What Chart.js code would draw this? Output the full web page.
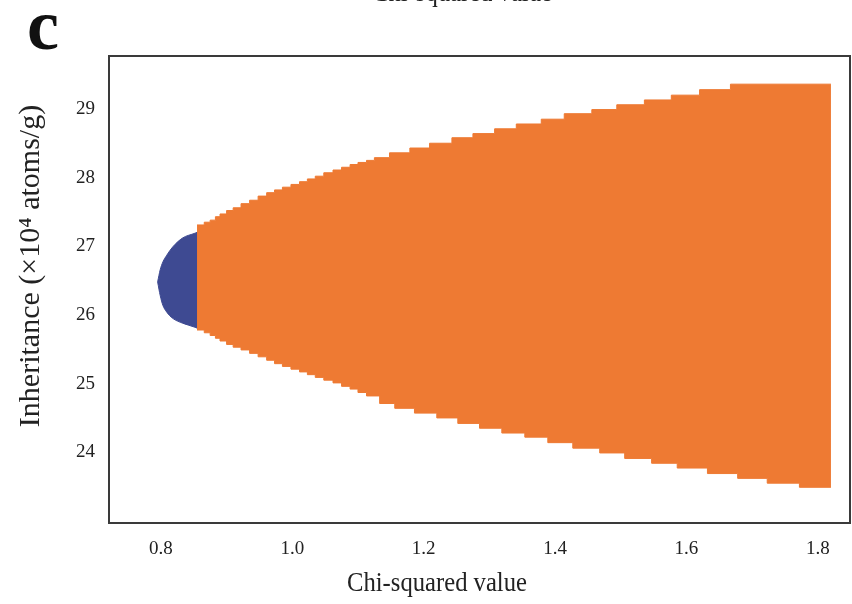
<!DOCTYPE html>
<html>
<head>
<meta charset="utf-8">
<script src="https://cdn.jsdelivr.net/npm/chart.js@4.4.1/dist/chart.umd.min.js"></script>
<style>html, body { margin: 0; padding: 0; background: #fff; }</style>
</head>
<body>
<canvas id="chart" width="852" height="604"></canvas>
<script>
const xTicks = [0.8, 1.0, 1.2, 1.4, 1.6, 1.8];
const yTicks = [24, 25, 26, 27, 28, 29];

// blue cap (lowest chi-squared values): upper and lower edge
const blueX = [0.795, 0.799, 0.803, 0.809, 0.818, 0.833, 0.852, 0.857];
const blueTop = [26.48, 26.66, 26.77, 26.87, 26.99, 27.12, 27.19, 27.21];
const blueBottom = [26.48, 26.28, 26.14, 26.04, 25.95, 25.88, 25.82, 25.80];

// orange region: upper edge (each value holds from its x to the next x)
const topX = [0.855, 0.866, 0.875, 0.883, 0.89, 0.9, 0.91, 0.922, 0.935, 0.948, 0.961, 0.973, 0.985,
  0.998, 1.011, 1.023, 1.035, 1.048, 1.062, 1.075, 1.088, 1.1, 1.113,
  1.125, 1.148, 1.179, 1.209, 1.243, 1.275, 1.308, 1.341, 1.379, 1.414, 1.456, 1.494, 1.536,
  1.577, 1.62, 1.667, 1.82];
const topY = [27.31, 27.35, 27.38, 27.43, 27.47, 27.52, 27.56, 27.62, 27.67, 27.73, 27.78, 27.82, 27.86,
  27.90, 27.94, 27.98, 28.02, 28.07, 28.11, 28.15, 28.19, 28.22, 28.25,
  28.29, 28.36, 28.43, 28.50, 28.58, 28.64, 28.71, 28.78, 28.85, 28.93, 28.99, 29.06, 29.13,
  29.20, 29.28, 29.36, 29.36];

// orange region: lower edge
const bottomX = [0.855, 0.866, 0.875, 0.883, 0.89, 0.9, 0.91, 0.922, 0.935, 0.948, 0.961, 0.973, 0.985,
  0.998, 1.011, 1.023, 1.035, 1.048, 1.062, 1.075, 1.088, 1.1, 1.113,
  1.133, 1.156, 1.186, 1.220, 1.252, 1.285, 1.319, 1.354, 1.389, 1.427, 1.468, 1.506, 1.547,
  1.586, 1.632, 1.678, 1.723, 1.772, 1.82];
const bottomY = [25.78, 25.74, 25.70, 25.66, 25.62, 25.57, 25.53, 25.49, 25.44, 25.39, 25.34, 25.29, 25.25,
  25.21, 25.17, 25.13, 25.09, 25.05, 25.01, 24.96, 24.92, 24.87, 24.82,
  24.71, 24.64, 24.57, 24.50, 24.42, 24.35, 24.28, 24.22, 24.14, 24.06, 23.99, 23.91, 23.84,
  23.77, 23.69, 23.62, 23.55, 23.49, 23.49];

const orange = '#ee7a33';
const blue = '#3e4a92';
const serif = '"Liberation Serif", "DejaVu Serif", serif';

const toPoints = (xs, ys) => xs.map((x, i) => ({ x: x, y: ys[i] }));

const frameAndText = {
  id: 'frameAndText',
  afterDraw(chart) {
    const { ctx, chartArea: a } = chart;
    ctx.save();
    ctx.strokeStyle = '#3a3a3a';
    ctx.lineWidth = 2;
    ctx.strokeRect(a.left, a.top, a.right - a.left, a.bottom - a.top);

    ctx.fillStyle = '#111';
    ctx.font = 'bold 72px ' + serif;
    ctx.textAlign = 'left';
    ctx.textBaseline = 'alphabetic';
    ctx.fillText('c', 27, 49);

    ctx.font = '28px ' + serif;
    ctx.fillStyle = '#222';
    // title of the panel above, mostly cut off
    ctx.save();
    ctx.translate(372, 1);
    ctx.scale(0.88, 1);
    ctx.fillText('Chi-squared value', 0, 0);
    ctx.restore();

    ctx.save();
    ctx.translate(437, 591);
    ctx.scale(0.88, 1);
    ctx.textAlign = 'center';
    ctx.fillText('Chi-squared value', 0, 0);
    ctx.restore();

    ctx.font = '30px ' + serif;
    ctx.translate(31, 266);
    ctx.rotate(-Math.PI / 2);
    ctx.textAlign = 'center';
    ctx.textBaseline = 'middle';
    ctx.fillText('Inheritance (\u00d710\u2074 atoms/g)', 0, 0);
    ctx.restore();
  }
};

const ctx = document.querySelector('#chart').getContext('2d');
const chart = new Chart(ctx, {
  type: 'line',
  data: {
    datasets: [
      {
        data: toPoints(topX, topY),
        borderColor: orange, backgroundColor: orange, borderWidth: 1,
        stepped: 'before', pointRadius: 0, fill: '+1'
      },
      {
        data: toPoints(bottomX, bottomY),
        borderColor: orange, backgroundColor: orange, borderWidth: 1,
        stepped: 'before', pointRadius: 0, fill: false
      },
      {
        data: toPoints(blueX, blueTop),
        borderColor: blue, backgroundColor: blue, borderWidth: 1,
        tension: 0.4, cubicInterpolationMode: 'monotone', pointRadius: 0, fill: '+1'
      },
      {
        data: toPoints(blueX, blueBottom),
        borderColor: blue, backgroundColor: blue, borderWidth: 1,
        tension: 0.4, cubicInterpolationMode: 'monotone', pointRadius: 0, fill: false
      }
    ]
  },
  options: {
    responsive: false,
    maintainAspectRatio: false,
    animation: false,
    layout: { padding: { top: 56, right: 2, left: 0, bottom: 0 } },
    plugins: { legend: { display: false }, tooltip: { enabled: false } },
    scales: {
      x: {
        type: 'linear', min: 0.721, max: 1.849,
        grid: { display: false, drawTicks: false }, border: { display: false },
        afterBuildTicks: s => { s.ticks = xTicks.map(v => ({ value: v })); },
        afterFit: s => { s.height = 81; },
        ticks: {
          padding: 15, color: '#222', font: { family: serif, size: 19 },
          callback: v => v.toFixed(1)
        }
      },
      y: {
        type: 'linear', min: 22.97, max: 29.77,
        grid: { display: false, drawTicks: false }, border: { display: false },
        afterBuildTicks: s => { s.ticks = yTicks.map(v => ({ value: v })); },
        afterFit: s => { s.width = 109; },
        ticks: { padding: 14, color: '#222', font: { family: serif, size: 19 } }
      }
    }
  },
  plugins: [frameAndText]
});
</script>
</body>
</html>
